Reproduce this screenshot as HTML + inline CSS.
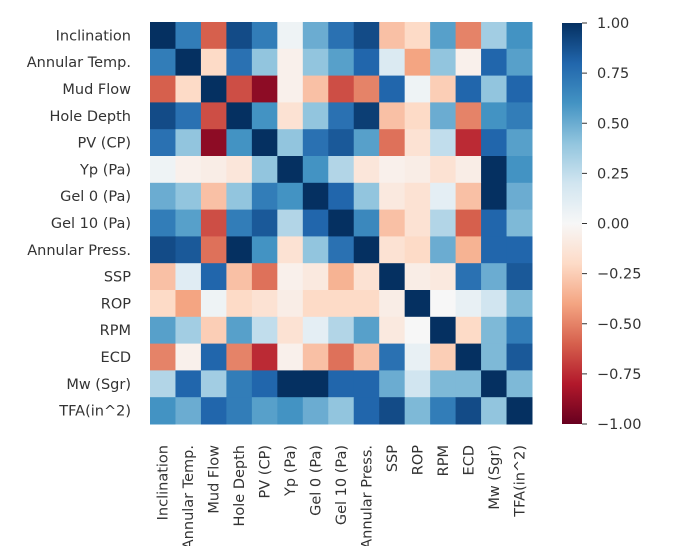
<!DOCTYPE html>
<html><head><meta charset="utf-8">
<style>
body{margin:0;background:#fff;}
svg{display:block;font-family:"DejaVu Sans","Liberation Sans",sans-serif;}
text{fill:#333;font-size:14.5px;}
</style></head>
<body>
<svg id="chart" width="675" height="556" viewBox="0 0 675 556">
<defs>
<linearGradient id="cbgrad" x1="0" y1="1" x2="0" y2="0">
<stop offset="0" stop-color="#67001f"/><stop offset="0.1" stop-color="#b2182b"/>
<stop offset="0.2" stop-color="#d6604d"/><stop offset="0.3" stop-color="#f4a582"/>
<stop offset="0.4" stop-color="#fddbc7"/><stop offset="0.5" stop-color="#f7f7f7"/>
<stop offset="0.6" stop-color="#d1e5f0"/><stop offset="0.7" stop-color="#92c5de"/>
<stop offset="0.8" stop-color="#4393c3"/><stop offset="0.9" stop-color="#2166ac"/>
<stop offset="1" stop-color="#053061"/>
</linearGradient>
<clipPath id="colclip"><rect x="0" y="426" width="560" height="120"/></clipPath>
</defs>
<g id="cells"></g>
<g id="rowlabels"></g>
<g id="collabels" clip-path="url(#colclip)"></g>
<rect x="562" y="23" width="20" height="401" fill="url(#cbgrad)"/>
<g id="cbticks"></g>
</svg>
<script>
const labels = ["Inclination","Annular Temp.","Mud Flow","Hole Depth","PV (CP)","Yp (Pa)","Gel 0 (Pa)","Gel 10 (Pa)","Annular Press.","SSP","ROP","RPM","ECD","Mw (Sgr)","TFA(in^2)"];
const row0 = [1,.7,-.6,.9,.7,.05,.5,.75,.9,-.3,-.2,.55,-.5,.35,.6];
const row1 = [.7,1,-.2,.75,.4,-.05,.4,.55,.8,.15,-.4,.4,-.05,.8,.55];
const row2 = [-.6,-.2,1,-.65,-.9,-.05,-.3,-.65,-.5,.8,.05,-.25,.8,.4,.8];
const row3 = [.9,.75,-.65,1,.6,-.15,.4,.75,.95,-.3,-.2,.5,-.5,.6,.7];
const row4 = [.75,.4,-.9,.6,1,.4,.75,.85,.55,-.55,-.15,.25,-.75,.8,.55];
const row5 = [.05,-.05,-.07,-.12,.4,1,.6,.3,-.12,-.05,-.07,-.15,-.07,1,.6];
const row6 = [.5,.4,-.3,.4,.7,.6,1,.8,.4,-.1,-.15,.1,-.3,1,.5];
const row7 = [.7,.55,-.65,.7,.85,.3,.8,1,.65,-.3,-.15,.3,-.6,.8,.45];
const row8 = [.9,.85,-.55,1,.6,-.15,.4,.75,1,-.15,-.2,.5,-.35,.8,.8];
const row9 = [-.3,.12,.8,-.3,-.55,-.05,-.1,-.35,-.15,1,-.07,-.1,.75,.5,.85];
const row10 = [-.2,-.4,.05,-.2,-.15,-.07,-.2,-.2,-.2,-.07,1,0,.08,.2,.45];
const row11 = [.55,.35,-.25,.55,.25,-.15,.1,.3,.55,-.1,0,1,-.2,.45,.7];
const row12 = [-.5,-.05,.8,-.5,-.75,-.05,-.3,-.55,-.3,.75,.08,-.25,1,.45,.85];
const row13 = [.3,.8,.35,.7,.8,1,1,.8,.8,.5,.2,.45,.45,1,.45];
const row14 = [.6,.5,.8,.7,.55,.6,.5,.4,.8,.9,.45,.7,.9,.4,1];
const matrix = [row0,row1,row2,row3,row4,row5,row6,row7,row8,row9,row10,row11,row12,row13,row14];
const cbTicks = [1,0.75,0.5,0.25,0,-0.25,-0.5,-0.75,-1];

const NS="http://www.w3.org/2000/svg";
const X0=150, X1=532, Y0=22, Y1=424, CBY0=23, CBY1=424;
const n=labels.length, cw=(X1-X0)/n, ch=(Y1-Y0)/n;
const xPos=i=>X0+i*cw, yPos=i=>Y0+i*ch;
const cbY=v=>CBY0+(1-v)/2*(CBY1-CBY0);
const stops=["#67001f","#b2182b","#d6604d","#f4a582","#fddbc7","#f7f7f7","#d1e5f0","#92c5de","#4393c3","#2166ac","#053061"].map(h=>[parseInt(h.slice(1,3),16),parseInt(h.slice(3,5),16),parseInt(h.slice(5,7),16)]);
function color(v){
  let t=(Math.max(-1,Math.min(1,v))+1)/2*10;
  let i=Math.min(9,Math.floor(t)), f=t-i;
  const c=stops[i].map((a,k)=>Math.round(a+(stops[i+1][k]-a)*f));
  return `rgb(${c[0]},${c[1]},${c[2]})`;
}
function mk(tag,attrs,parent){const e=document.createElementNS(NS,tag);for(const k in attrs)e.setAttribute(k,attrs[k]);parent.appendChild(e);return e;}
const cells=document.getElementById('cells');
matrix.forEach((row,r)=>row.forEach((v,c)=>{
  const e=mk('rect',{x:xPos(c),y:yPos(r),width:cw+0.5,height:ch+0.5,fill:color(v)},cells);
  
  
}));
const rl=document.getElementById('rowlabels'), cl=document.getElementById('collabels');
labels.forEach((l,i)=>{
  const y=yPos(i)+ch/2;
  const t=mk('text',{x:131,y:y+5,'text-anchor':'end'},rl);
  t.textContent=l;
  
  
  const x=xPos(i)+cw/2;
  const t2=mk('text',{x:0,y:0,'text-anchor':'end',transform:`translate(${x+5},${Y1+21}) rotate(-90)`},cl);
  t2.textContent=l;
  
  
});
const cb=document.getElementById('cbticks');
cbTicks.forEach(v=>{
  const y=cbY(v);
  mk('line',{x1:582,x2:587,y1:y,y2:y,stroke:'#333','stroke-width':1},cb);
  const t=mk('text',{x:597,y:y+5},cb);
  t.textContent=(v<0?'\u2212':'')+Math.abs(v).toFixed(2);
  
  
});
</script>
</body></html>
